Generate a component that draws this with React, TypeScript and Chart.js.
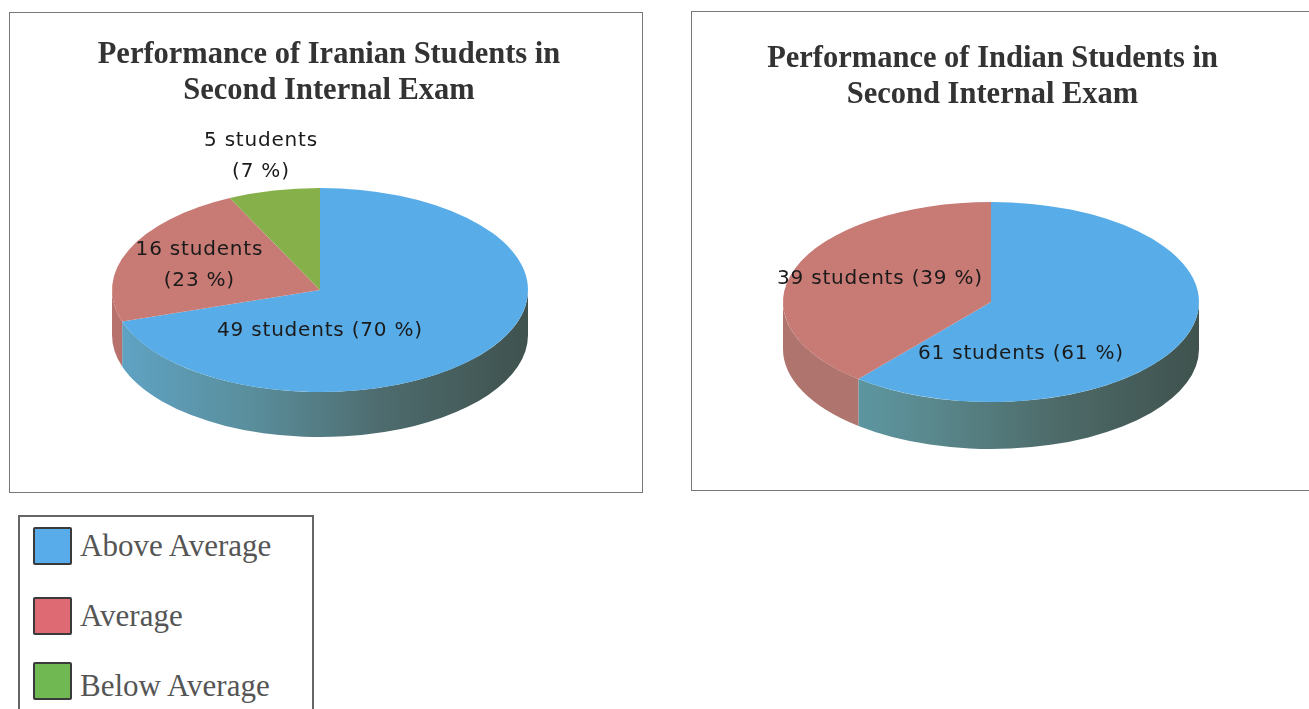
import React, { useEffect, useRef } from "react";
import { Chart, registerables } from "chart.js";

Chart.register(...registerables);

const legendLabels = ["Above Average", "Average", "Below Average"];
const legendColors = ["#58ace9", "#de6a73", "#6fb852"];

const iranianTitle = ["Performance of Iranian Students in", "Second Internal Exam"];
const iranianCounts = [49, 16, 5];
const iranianPercents = [70, 23, 7];
const iranianColors = ["#58ade8", "#c87a75", "#86b14a"];

const indianTitle = ["Performance of Indian Students in", "Second Internal Exam"];
const indianCounts = [61, 39];
const indianPercents = [61, 39];
const indianColors = ["#58ade8", "#c87a75"];

type TiltOptions = {
  cx: number;
  cy: number;
  ry: number;
  depth: number;
  walls: string[][];
  labelLines: string[][];
  labelSpots: number[][];
};

// Squashes the round pie into a tilted disc and gives it a rim and callouts.
const tiltedPie = {
  id: "tiltedPie",
  beforeDatasetsDraw(chart: any, _args: any, o: TiltOptions) {
    const { ctx } = chart;
    const arcs = chart.getDatasetMeta(0).data;
    arcs.forEach((arc: any, i: number) => {
      const rx = arc.outerRadius;
      const a = Math.max(arc.startAngle, 0);
      const b = Math.min(arc.endAngle, Math.PI);
      if (b <= a) return;
      const grad = ctx.createLinearGradient(o.cx - rx, 0, o.cx + rx, 0);
      const stops = o.walls[i];
      stops.forEach((c, k) => grad.addColorStop(k / (stops.length - 1), c));
      ctx.beginPath();
      ctx.ellipse(o.cx, o.cy, rx, o.ry, 0, a, b);
      ctx.ellipse(o.cx, o.cy + o.depth, rx, o.ry, 0, b, a, true);
      ctx.closePath();
      ctx.fillStyle = grad;
      ctx.fill();
    });
    const first = arcs[0];
    ctx.save();
    ctx.translate(o.cx, o.cy);
    ctx.scale(1, o.ry / first.outerRadius);
    ctx.translate(-first.x, -first.y);
  },
  afterDatasetsDraw(chart: any, _args: any, o: TiltOptions) {
    const { ctx } = chart;
    ctx.restore();
    const rx = chart.getDatasetMeta(0).data[0].outerRadius;
    ctx.save();
    ctx.font = '20px "DejaVu Sans"';
    ctx.letterSpacing = "0.8px";
    ctx.fillStyle = "#1a1a1a";
    ctx.textAlign = "center";
    ctx.textBaseline = "middle";
    o.labelLines.forEach((lines, i) => {
      const x = o.cx + o.labelSpots[i][0] * rx;
      const y = o.cy + o.labelSpots[i][1] * o.ry + 2;
      lines.forEach((line, k) => {
        ctx.fillText(line, x, y + (k - (lines.length - 1) / 2) * 31);
      });
    });
    ctx.restore();
  },
};

type PieProps = {
  title: string[];
  labels: string[];
  counts: number[];
  colors: string[];
  width: number;
  height: number;
  titleTop: number;
  sidePadding: { left: number; right: number };
  tilt: TiltOptions;
};

function PieCanvas(p: PieProps) {
  const ref = useRef<HTMLCanvasElement>(null);
  useEffect(() => {
    const chart = new Chart(ref.current!, {
      type: "pie",
      data: {
        labels: p.labels,
        datasets: [
          {
            data: p.counts,
            backgroundColor: p.colors,
            borderWidth: 0,
            radius: 208,
            clip: false,
          } as any,
        ],
      },
      plugins: [tiltedPie],
      options: {
        responsive: false,
        animation: false,
        events: [],
        layout: { padding: { ...p.sidePadding, top: 0, bottom: 0 } },
        plugins: {
          legend: { display: false },
          tooltip: { enabled: false },
          title: {
            display: true,
            text: p.title,
            color: "#333333",
            font: { family: '"Liberation Serif"', size: 30.5, weight: "bold", lineHeight: 1.18 },
            padding: { top: p.titleTop, bottom: 0 },
          },
          tiltedPie: p.tilt,
        } as any,
      },
    });
    return () => chart.destroy();
  }, []);
  return <canvas ref={ref} width={p.width} height={p.height} style={{ display: "block" }} />;
}

const frame: React.CSSProperties = {
  position: "absolute",
  border: "1.5px solid #777",
  boxSizing: "border-box",
  background: "#fff",
};

const lineOf = (count: number, pct: number) => [`${count} students (${pct} %)`];
const twoLines = (count: number, pct: number) => [`${count} students`, `(${pct} %)`];

export default function App() {
  return (
    <div style={{ position: "fixed", left: 0, top: 0, width: 1309, height: 709, overflow: "hidden", background: "#fff" }}>
      <div style={{ ...frame, left: 9, top: 12, width: 634, height: 481 }}>
        <PieCanvas
          title={iranianTitle}
          labels={legendLabels}
          counts={iranianCounts}
          colors={iranianColors}
          width={631}
          height={478}
          titleTop={24}
          sidePadding={{ left: 7, right: 0 }}
          tilt={{
            cx: 310,
            cy: 277,
            ry: 102,
            depth: 45,
            walls: [
              ["#5fa4c6", "#5a8e9c", "#4d6a6c", "#3f524e"],
              ["#b8726e", "#b8726e"],
              ["#86b14a", "#86b14a"],
            ],
            labelLines: [
              lineOf(iranianCounts[0], iranianPercents[0]),
              twoLines(iranianCounts[1], iranianPercents[1]),
              twoLines(iranianCounts[2], iranianPercents[2]),
            ],
            labelSpots: [
              [0, 0.38],
              [-0.58, -0.26],
              [-0.284, -1.33],
            ],
          }}
        />
      </div>
      <div style={{ ...frame, left: 691, top: 11, width: 660, height: 480 }}>
        <PieCanvas
          title={indianTitle}
          labels={legendLabels.slice(0, 2)}
          counts={indianCounts}
          colors={indianColors}
          width={601}
          height={477}
          titleTop={29}
          sidePadding={{ left: 0, right: 0 }}
          tilt={{
            cx: 299,
            cy: 290,
            ry: 100,
            depth: 47,
            walls: [
              ["#5fa4b4", "#5a8a90", "#4d6a68", "#3f524e"],
              ["#b0746e", "#a87570"],
            ],
            labelLines: [
              lineOf(indianCounts[0], indianPercents[0]),
              lineOf(indianCounts[1], indianPercents[1]),
            ],
            labelSpots: [
              [0.144, 0.5],
              [-0.534, -0.25],
            ],
          }}
        />
      </div>
      <div style={{ ...frame, left: 18, top: 515, width: 296, height: 220, border: "2px solid #666" }}>
        {legendLabels.map((label, i) => (
          <div
            key={label}
            style={{
              position: "absolute",
              left: 13,
              top: [10, 80, 145][i],
              display: "flex",
              alignItems: "center",
              height: 38,
            }}
          >
            <span
              style={{
                width: 35,
                height: 34,
                background: legendColors[i],
                border: "2px solid #3a3a3a",
                borderRadius: 2,
                marginRight: 8,
              }}
            />
            <span
              style={{
                font: '31px "Liberation Serif"',
                color: "#555",
                position: "relative",
                top: [0, 0, 5][i],
              }}
            >
              {label}
            </span>
          </div>
        ))}
      </div>
    </div>
  );
}
